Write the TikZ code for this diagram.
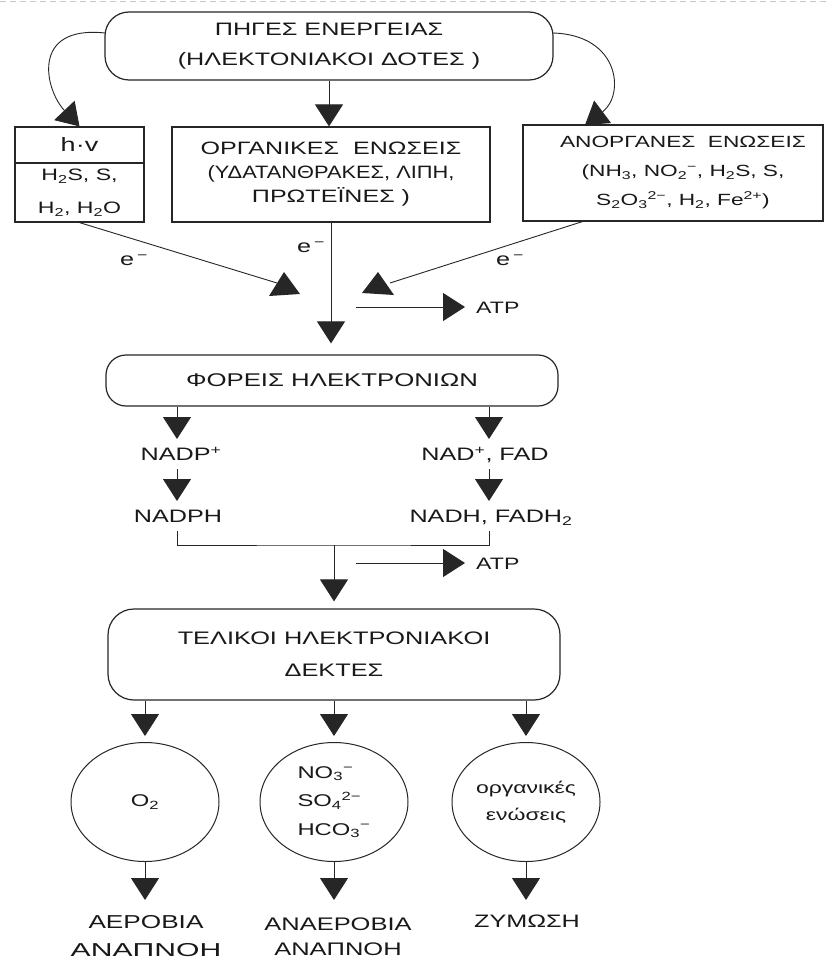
\documentclass[tikz,border=0pt]{standalone}
\usepackage{graphicx}
\usepackage{fontspec}
\setmainfont{Liberation Sans}[FakeStretch=1.4]
\usetikzlibrary{arrows.meta,shapes.geometric,calc}
\newcommand\dn[1]{\textsubscript{#1}}
\newcommand\up[1]{\textsuperscript{#1}}
\newcommand\fs[2]{\fontsize{#1}{#2}\selectfont}
\begin{document}
\begin{tikzpicture}[x=1pt,y=-1pt,
  line/.style={draw=black!85, line width=0.9pt},
  arr/.style={line, -{Triangle[length=22pt,width=28pt]}, color=black!85},
  rbox/.style={draw=black!85, line width=1.2pt, rounded corners=24pt, align=center, inner sep=0pt},
  sbox/.style={draw=black!85, line width=1.2pt, align=center, inner sep=0pt},
  lbl/.style={inner xsep=0pt, inner ysep=8pt, text height=13.2pt, text depth=0pt},
  ell/.style={ellipse, draw=black!85, line width=1pt, minimum width=148pt, minimum height=119pt, inner sep=0pt},
  tri/.style={fill=black!85},
  every node/.style={font=\fs{18}{24}, text=black!90}
]
\fill[white] (0,0) rectangle (827,960);
\useasboundingbox (0,0) rectangle (827,960);
\draw[black!22, line width=1pt, dash pattern=on 6pt off 4pt] (0,1.5) -- (827,1.5);

% top box
\node[rbox, minimum width=448pt, minimum height=68pt, font=\fs{18}{30}] (src) at (329,46) {ΠΗΓΕΣ ΕΝΕΡΓΕΙΑΣ\\(ΗΛΕΚΤΟΝΙΑΚΟΙ ΔΟΤΕΣ )};

% donors
\node[sbox, minimum width=129pt, minimum height=36pt, font=\fs{19.3}{24}] (hvtop) at (79.5,145) {h·v};
\node[sbox, minimum width=129pt, minimum height=59pt, font=\fs{16.5}{33}] (hvbot) at (79.5,192.5) {H\dn2S, S,\\H\dn2, H\dn2O};
\node[sbox, minimum width=318pt, minimum height=95pt, font=\fs{17.9}{24}] (org) at (331,174.5) {ΟΡΓΑΝΙΚΕΣ\ \ ΕΝΩΣΕΙΣ\\\scalebox{0.87}[1]{(ΥΔΑΤΑΝΘΡΑΚΕΣ, ΛΙΠΗ,}\\ΠΡΩΤΕΪΝΕΣ )};
\node[sbox, minimum width=300pt, minimum height=96pt] (inorg) at (673,173) {};
\node[align=center, inner sep=0pt, font=\fs{16.2}{29}] (inorgt) at ($(inorg.center)+(10,0)$) {ΑΝΟΡΓΑΝΕΣ\ \ ΕΝΩΣΕΙΣ\\(NH\dn3, NO\dn2\up{−}, H\dn2S, S,\\S\dn2O\dn3\up{2−}, H\dn2, Fe\up{2+})};

% curved arrows from top box
\coordinate (sl) at (105,33);
\coordinate (sr) at (553,33);
\coordinate (rin) at (585,125);
\draw[arr] (sl) .. controls (30,25) and (45,90) .. (hvtop.north);
\draw[arr] (sr) .. controls (620,35) and (625,95) .. (rin);
\draw[arr] (src.south) -- (src.south |- org.north);

% electrons
\coordinate (t1) at (277,283);
\coordinate (t2) at (390,283);
\draw[line] (hvbot.south) -- (t1);
\draw[line] ($(inorg.south west)+(60,0)$) -- (t2);
\fill[tri] (269,296) -- (300,294) -- (284,272) -- cycle;
\fill[tri] (362,293) -- (394,295) -- (378,272) -- cycle;
\node (e1) at (134,260) {e\,\up{−}};
\node (e2) at (311,247) {e\,\up{−}};
\node (e3) at (510,260) {e\,\up{−}};

% carriers
\node[rbox, rounded corners=20pt, minimum width=452pt, minimum height=51pt, font=\fs{18.4}{24}] (car) at (332,380.5) {ΦΟΡΕΙΣ ΗΛΕΚΤΡΟΝΙΩΝ};
\draw[arr, shorten >=11pt] (org.south) -- (org.south |- car.north);

\coordinate (a1) at (356,307);
\node[lbl, anchor=west, font=\fs{16.5}{20}] (atp1) at (476,307) {ATP};
\draw[arr, shorten >=11pt] (a1) -- (atp1.west);

\node[lbl] (nadp) at (181,454) {NADP\up{+}};
\node[lbl] (nadph) at (178,516) {NADPH};
\node[lbl] (nad) at (485,454) {NAD\up{+}, FAD};
\node[lbl] (nadh) at (491,516) {NADH, FADH\dn2};
\draw[arr] (car.south -| 177,0) -- (177,439);
\draw[arr] (177,469) -- (177,501);
\draw[arr] (car.south -| 489,0) -- (489,439);
\draw[arr] (489,469) -- (489,501);

\coordinate (j) at (334,545);
\draw[line] (177,531) -- (177,545) -- (j) -- (489,545) -- (489,531);

\coordinate (a2) at (356,563);
\node[lbl, anchor=west, font=\fs{16.5}{20}] (atp2) at (476,563) {ATP};
\draw[arr, shorten >=11pt] (a2) -- (atp2.west);

% final acceptors
\node[rbox, rounded corners=26pt, minimum width=452pt, minimum height=91pt, font=\fs{18.1}{32}] (fin) at (334,654.5) {ΤΕΛΙΚΟΙ ΗΛΕΚΤΡΟΝΙΑΚΟΙ\\ΔΕΚΤΕΣ};
\draw[arr, shorten >=7pt] (j) -- (j |- fin.north);

\node[ell, font=\fs{17}{24}] (c1) at (145,802) {O\dn2};
\node[ell, align=left, font=\fs{17}{28.5}] (c2) at (334,802) {NO\dn3\up{−}\\SO\dn4\up{2−}\\HCO\dn3\up{−}};
\node[ell, align=center, font=\fs{16.4}{27}] (c3) at (526,802) {οργανικές\\ενώσεις};
\draw[arr, shorten >=6pt] (fin.south -| c1) -- (c1.north);
\draw[arr, shorten >=6pt] (fin.south -| c2) -- (c2.north);
\draw[arr, shorten >=6pt] (fin.south -| c3) -- (c3.north);

\node[align=center, anchor=north, inner sep=0pt, font=\fs{18.7}{28}] (r1) at (146,915) {ΑΕΡΟΒΙΑ\\\scalebox{1.15}[1]{ΑΝΑΠΝΟΗ}};
\node[align=center, anchor=north, inner sep=0pt, font=\fs{18.2}{25}] (r2) at (338,918) {ΑΝΑΕΡΟΒΙΑ\\ΑΝΑΠΝΟΗ};
\node[align=center, anchor=north, inner sep=0pt, font=\fs{18}{28}] (r3) at (527,915) {ΖΥΜΩΣΗ};
\draw[arr, shorten >=15pt] (c1.south) -- (c1.south |- r1.north);
\draw[arr, shorten >=18pt] (c2.south) -- (c2.south |- r2.north);
\draw[arr, shorten >=15pt] (c3.south) -- (c3.south |- r3.north);
\end{tikzpicture}
\end{document}
